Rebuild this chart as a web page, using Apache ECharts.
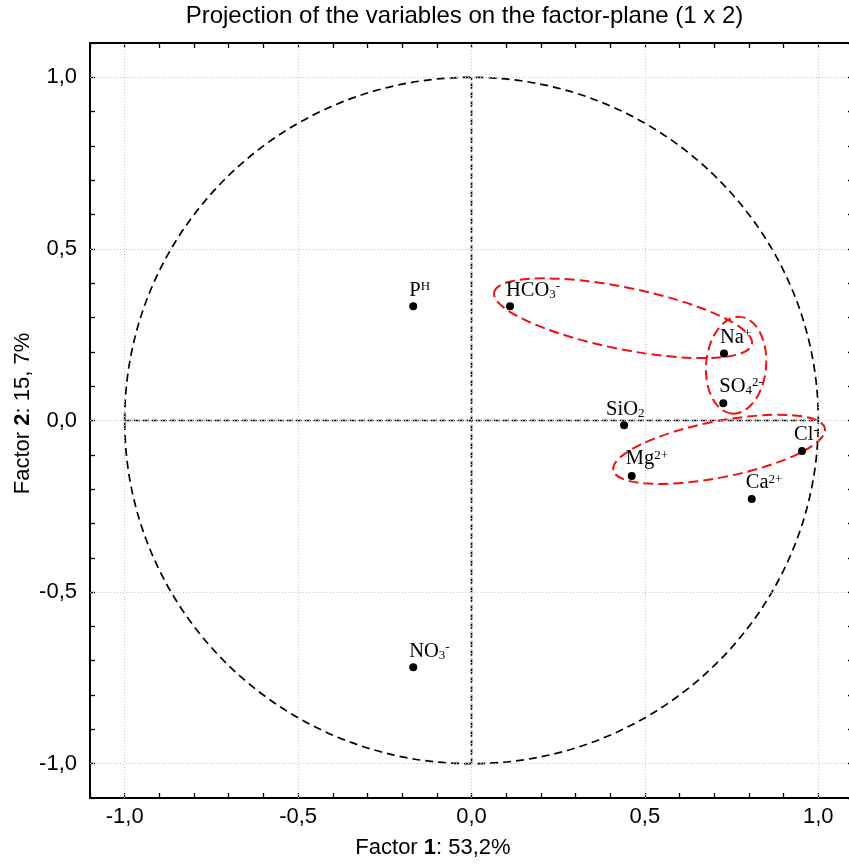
<!DOCTYPE html>
<html><head><meta charset="utf-8">
<script src="https://cdn.jsdelivr.net/npm/echarts@6/dist/echarts.min.js"></script>
<style>html,body{margin:0;padding:0;background:#fff}#c{width:849px;height:865px}</style>
</head><body><div id="c"></div>
<script>
// ---- data ----
const variableNames = ['PH', 'HCO3', 'Na', 'SO4', 'SiO2', 'Cl', 'Mg', 'Ca', 'NO3'];
const variableLabels = ['P{sup|H}', 'HCO{sub|3}{sup|-}', 'Na{sup|+}', 'SO{sub|4}{sup|2-}', 'SiO{sub|2}', 'Cl{sup|-}', 'Mg{sup|2+}', 'Ca{sup|2+}', 'NO{sub|3}{sup|-}'];
const factor1 = [-0.168, 0.111, 0.728, 0.726, 0.440, 0.953, 0.462, 0.808, -0.168];
const factor2 = [0.333, 0.333, 0.195, 0.050, -0.014, -0.089, -0.162, -0.229, -0.719];
const axisTickLabels = [-1.0, -0.5, 0.0, 0.5, 1.0];
const unitCircle = [[0, 0, 1]];               // centre x, centre y, radius
const zeroLineH = [[-1, 0], [1, 0]];
const zeroLineV = [[0, -1], [0, 1]];
// group ellipses: centre x, centre y, semi-major, semi-minor, angle (deg)
const groupEllipses = [
  [0.437, 0.298, 0.379, 0.089, -11.4],
  [0.763, 0.161, 0.140, 0.0865, 85],
  [0.714, -0.084, 0.311, 0.081, 11.2]
];

// ---- styling helpers ----
const labelNudge = { SiO2: [-14, 0], Cl: [-4, 0], Mg: [-2, -1], Ca: [-2, 0], SO4: [0, -1] };
const SANS = 'Liberation Sans';
const SERIF = 'Liberation Serif';
const fmtTick = v => {
  const k = axisTickLabels.find(t => Math.abs(t - v) < 1e-6);
  return k === undefined ? '' : k.toFixed(1).replace('.', ',');
};
const axisBase = (pos, showLabel, margin) => ({
  type: 'value', min: -1.1, max: 1.1, interval: 0.1, position: pos,
  axisLine: { show: true, onZero: false, lineStyle: { color: '#000', width: 2 } },
  axisTick: { show: true, inside: true, length: 5, lineStyle: { color: '#000', width: 1.3 } },
  axisLabel: { show: showLabel, formatter: fmtTick, fontSize: 22, fontFamily: SANS, color: '#000', margin: margin, hideOverlap: false },
  splitLine: { show: false }
});

const scatterData = factor1.map((x, i) => {
  const n = labelNudge[variableNames[i]] || [0, 0];
  return { name: variableNames[i], value: [x, factor2[i]], label: { position: [0 + n[0], -1.5 + n[1]] } };
});

const chart = echarts.init(document.getElementById('c'));
chart.setOption({
  animation: false,
  backgroundColor: '#fff',
  grid: { left: 90, top: 43, width: 763, height: 755, containLabel: false, outerBoundsMode: 'none' },
  xAxis: [axisBase('bottom', true, 8), axisBase('top', false, 8)],
  yAxis: [axisBase('left', true, 13), axisBase('right', false, 8)],
  graphic: [
    { type: 'text', x: 464.5, y: 16, style: { text: 'Projection of the variables on the factor-plane (1 x 2)', fontSize: 24, fontFamily: SANS, fill: '#000', align: 'center', verticalAlign: 'middle' } },
    { type: 'text', x: 433, y: 848, style: { text: 'Factor {b|1}: 53,2%', fontSize: 22, fontFamily: SANS, fill: '#000', align: 'center', verticalAlign: 'middle',
        rich: { b: { fontSize: 22, fontFamily: SANS, fontWeight: 'bold', fill: '#000' } } } },
    { type: 'text', x: 23, y: 413.5, rotation: Math.PI / 2, style: { text: 'Factor {b|2}: 15, 7%', fontSize: 22, fontFamily: SANS, fill: '#000', align: 'center', verticalAlign: 'middle',
        rich: { b: { fontSize: 22, fontFamily: SANS, fontWeight: 'bold', fill: '#000' } } } }
  ],
  series: [
    { type: 'line', data: [], z: 1, silent: true,
      markLine: { silent: true, symbol: ['none', 'none'], label: { show: false }, animation: false,
        lineStyle: { color: '#c4c4c4', type: [1, 2], width: 1 },
        emphasis: { disabled: true },
        data: axisTickLabels.map(v => ({ xAxis: v })).concat(axisTickLabels.map(v => ({ yAxis: v }))) } },
    { type: 'line', data: zeroLineH, z: 2, symbol: 'none', silent: true, lineStyle: { color: '#000', width: 1.6, type: [6, 3] } },
    { type: 'line', data: zeroLineV, z: 2, symbol: 'none', silent: true, lineStyle: { color: '#000', width: 1.6, type: [6, 3] } },
    { type: 'custom', z: 3, silent: true, data: unitCircle, encode: { x: 0, y: 1 },
      renderItem: (params, api) => {
        const c = api.coord([api.value(0), api.value(1)]);
        const s = api.size([api.value(2), api.value(2)]);
        return { type: 'ellipse', shape: { cx: c[0], cy: c[1], rx: s[0], ry: s[1] },
          style: { fill: 'none', stroke: '#000', lineWidth: 1.7, lineDash: [8, 5] } };
      } },
    { type: 'custom', z: 4, silent: true, data: groupEllipses, encode: { x: 0, y: 1 },
      renderItem: (params, api) => {
        const c = api.coord([api.value(0), api.value(1)]);
        const a = api.size([api.value(2), 0])[0];
        const b = api.size([api.value(3), 0])[0];
        return { type: 'ellipse', x: c[0], y: c[1], rotation: api.value(4) * Math.PI / 180,
          shape: { cx: 0, cy: 0, rx: a, ry: b },
          style: { fill: 'none', stroke: '#f01010', lineWidth: 2, lineDash: [10, 5] } };
      } },
    { type: 'scatter', z: 5, symbol: 'circle', symbolSize: 8, itemStyle: { color: '#000', opacity: 1 },
      data: scatterData,
      label: { show: true, formatter: p => variableLabels[p.dataIndex], align: 'left', verticalAlign: 'bottom',
        fontFamily: SERIF, fontSize: 20.5, lineHeight: 21, color: '#000', opacity: 1,
        rich: {
          sup: { fontFamily: SERIF, fontSize: 13, lineHeight: 6, verticalAlign: 'top', color: '#000' },
          sub: { fontFamily: SERIF, fontSize: 13, lineHeight: 14, verticalAlign: 'bottom', color: '#000' }
        } },
      emphasis: { disabled: true } }
  ]
});
</script></body></html>
